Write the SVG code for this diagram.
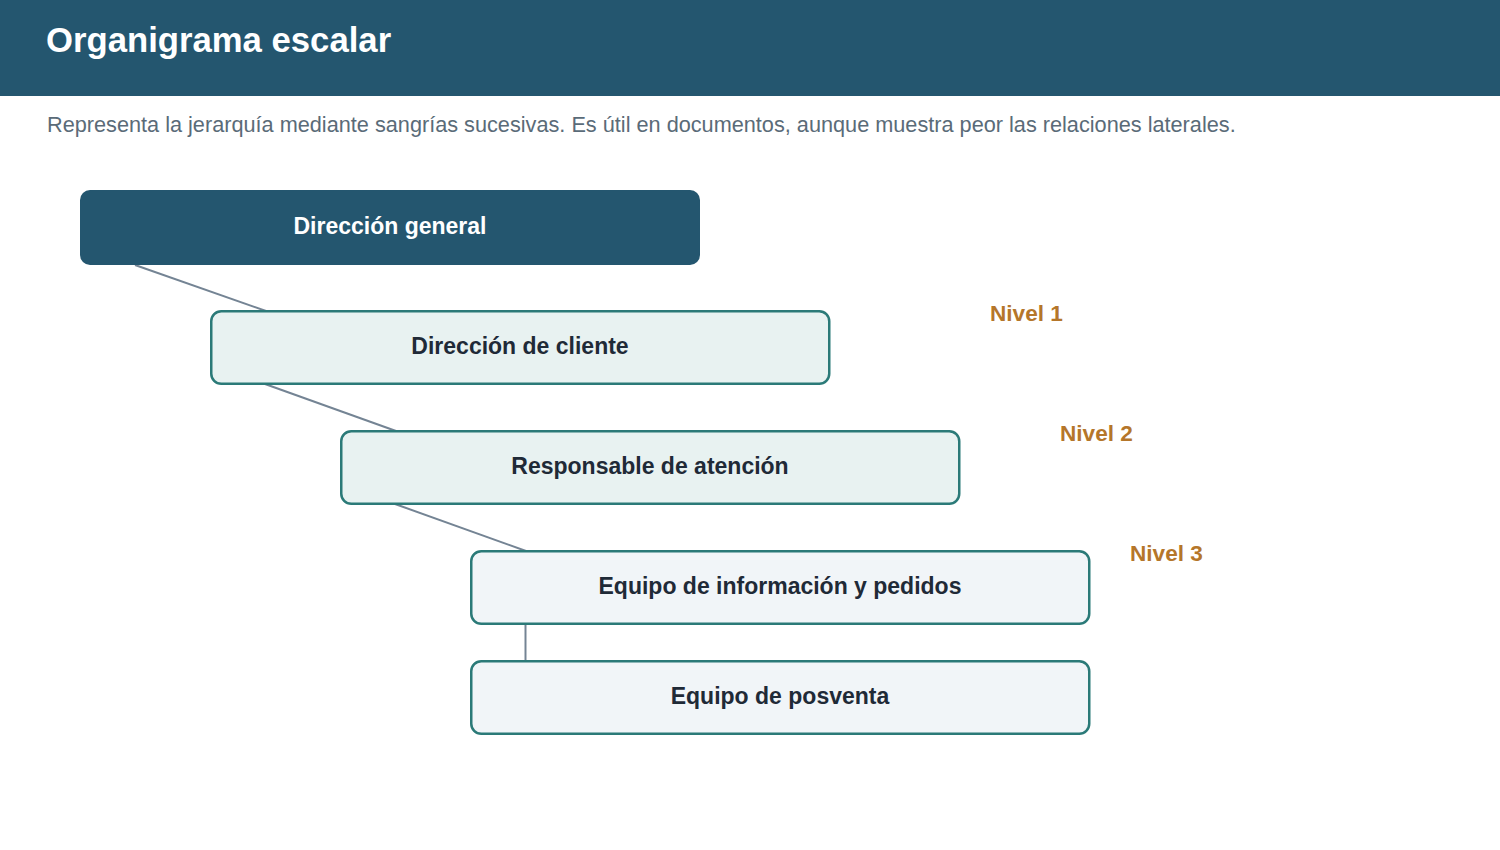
<svg xmlns="http://www.w3.org/2000/svg" width="1500" height="850" viewBox="0 0 1500 850">
<style>
.t{font-family:"Liberation Sans",Arial,sans-serif;font-weight:bold;font-size:23px;text-anchor:middle}
.n{fill:#e8f2f1;stroke:#2b7a78;stroke-width:2.5}
.n2{fill:#f1f5f8;stroke:#2b7a78;stroke-width:2.5}
.lvl{font-family:"Liberation Sans",Arial,sans-serif;font-weight:bold;font-size:22.6px;fill:#b5762a}
.c{stroke:#748494;stroke-width:2;fill:none}
</style>
<rect x="0" y="0" width="1500" height="850" fill="#ffffff"/>
<rect x="0" y="0" width="1500" height="96" fill="#24566f"/>
<text x="46" y="52" font-family="Liberation Sans, Arial, sans-serif" font-weight="bold" font-size="34.7" fill="#ffffff">Organigrama escalar</text>
<text x="47" y="132" font-family="Liberation Sans, Arial, sans-serif" font-size="21.7" fill="#5a6b78">Representa la jerarquía mediante sangrías sucesivas. Es útil en documentos, aunque muestra peor las relaciones laterales.</text>
<g id="connectors">
<line class="c" x1="135" y1="265" x2="266" y2="311"/>
<line class="c" x1="265" y1="384" x2="396" y2="431"/>
<line class="c" x1="395" y1="504" x2="526" y2="551"/>
<line class="c" x1="525.5" y1="624" x2="525.5" y2="661" stroke-width="3"/>
</g>
<g id="node-direccion-general">
<rect x="80" y="190" width="620" height="75" rx="10" fill="#24566f"/>
<text class="t" x="390" y="234" fill="#ffffff">Dirección general</text>
</g>
<g id="node-direccion-cliente">
<rect class="n" x="211.25" y="311.25" width="618" height="72.5" rx="10"/>
<text class="t" x="520" y="354" fill="#1f2a37">Dirección de cliente</text>
</g>
<g id="node-responsable">
<rect class="n" x="341.25" y="431.25" width="618" height="72.5" rx="10"/>
<text class="t" x="650" y="474" fill="#1f2a37">Responsable de atención</text>
</g>
<g id="node-equipo-info">
<rect class="n2" x="471.25" y="551.25" width="618" height="72.5" rx="10"/>
<text class="t" x="780" y="594" fill="#1f2a37">Equipo de información y pedidos</text>
</g>
<g id="node-equipo-posventa">
<rect class="n2" x="471.25" y="661.25" width="618" height="72.5" rx="10"/>
<text class="t" x="780" y="704" fill="#1f2a37">Equipo de posventa</text>
</g>
<g id="levels">
<text class="lvl" x="990" y="321">Nivel 1</text>
<text class="lvl" x="1060" y="441">Nivel 2</text>
<text class="lvl" x="1130" y="561">Nivel 3</text>
</g>
</svg>
